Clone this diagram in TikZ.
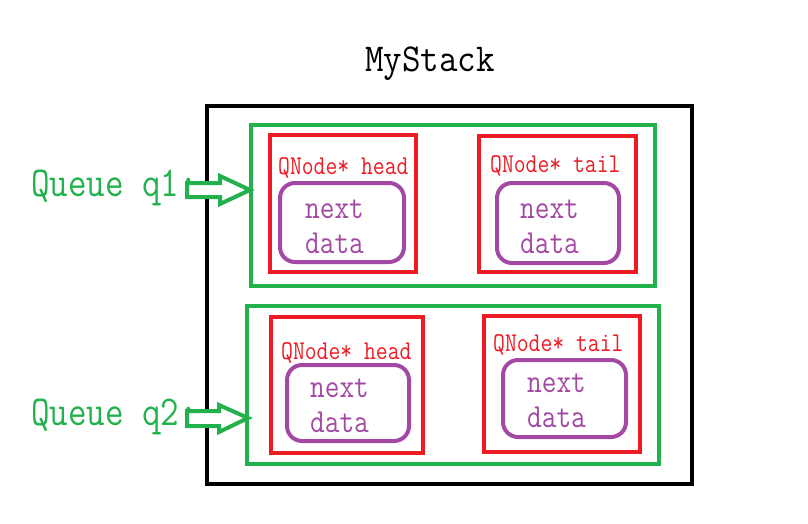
\documentclass[tikz,border=0pt]{standalone}
\usepackage{fontspec}
\usepackage{graphicx}
\definecolor{pgreen}{HTML}{22B14C}
\definecolor{pred}{HTML}{ED1C24}
\definecolor{ppurple}{HTML}{A349A4}
\newcommand{\tallt}[1]{\scalebox{1}[1.18]{#1}}
\begin{document}
\begin{tikzpicture}[x=1pt,y=-1pt,
  gbox/.style={draw=pgreen,line width=4pt,inner sep=0pt},
  rbox/.style={draw=pred,line width=4pt,inner sep=0pt},
  pbox/.style={draw=ppurple,line width=4pt,rounded corners=15pt,inner sep=0pt},
  qlabel/.style={text=pgreen,font=\ttfamily\fontsize{36}{40}\selectfont,anchor=base west,inner sep=0pt},
  nlabel/.style={text=pred,font=\ttfamily\fontsize{23}{26}\selectfont,anchor=base west,inner sep=0pt},
  flabel/.style={text=ppurple,font=\ttfamily\fontsize{28.5}{32}\selectfont,anchor=base west,inner sep=0pt},
  blockarrow/.style={draw=pgreen,line width=4pt,fill=white,line join=miter}]
\useasboundingbox (0,0) rectangle (808,524);
\node[draw=black,line width=4pt,minimum width=485pt,minimum height=378pt,inner sep=0pt] (stack) at (449.5,295) {};
\node[anchor=base,inner sep=0pt,font=\ttfamily\fontsize{36}{40}\selectfont] (title) at (430,72) {\scalebox{1}[1.1]{MyStack}};
% queue boxes
\node[gbox,minimum width=404pt,minimum height=161pt] (g1) at (453,205.5) {};
\node[gbox,minimum width=412pt,minimum height=158pt] (g2) at (453,385) {};
% QNode boxes
\node[rbox,minimum width=146pt,minimum height=137pt] (r1a) at (343,203.5) {};
\node[rbox,minimum width=157pt,minimum height=136pt] (r1b) at (557.5,204) {};
\node[rbox,minimum width=152pt,minimum height=136pt] (r2a) at (347,385) {};
\node[rbox,minimum width=156pt,minimum height=136pt] (r2b) at (562,384) {};
% inner boxes
\node[pbox,minimum width=124pt,minimum height=79pt] (p1a) at (342,222.5) {};
\node[pbox,minimum width=122pt,minimum height=80pt] (p1b) at (558,223) {};
\node[pbox,minimum width=122pt,minimum height=76pt] (p2a) at (348,403) {};
\node[pbox,minimum width=123pt,minimum height=77pt] (p2b) at (564.5,398.5) {};
% labels
\node[nlabel] (h1) at (278,174) {\tallt{QNode* head}};
\node[nlabel] (t1) at (490,172) {\tallt{QNode* tail}};
\node[nlabel] (h2) at (281,359) {\tallt{QNode* head}};
\node[nlabel] (t2) at (493,351) {\tallt{QNode* tail}};
\node[flabel] (n1a) at (305,218) {\tallt{next}};
\node[flabel] (d1a) at (305,253) {\tallt{data}};
\node[flabel] (n1b) at (520,218) {\tallt{next}};
\node[flabel] (d1b) at (520,253) {\tallt{data}};
\node[flabel] (n2a) at (310,397) {\tallt{next}};
\node[flabel] (d2a) at (310,432) {\tallt{data}};
\node[flabel] (n2b) at (527,392) {\tallt{next}};
\node[flabel] (d2b) at (527,427) {\tallt{data}};
\node[qlabel] (q1) at (31,196) {\tallt{Queue q1:}};
\node[qlabel] (q2) at (31,425) {\tallt{Queue q2:}};
% block arrows
\draw[blockarrow] (187,183) -- (220,183) -- (220,176) -- (250,190) -- (220,204) -- (220,197) -- (187,197) -- cycle;
\draw[blockarrow] (187,411) -- (219,411) -- (219,405) -- (248,418) -- (219,432) -- (219,426) -- (187,426) -- cycle;
\end{tikzpicture}
\end{document}
